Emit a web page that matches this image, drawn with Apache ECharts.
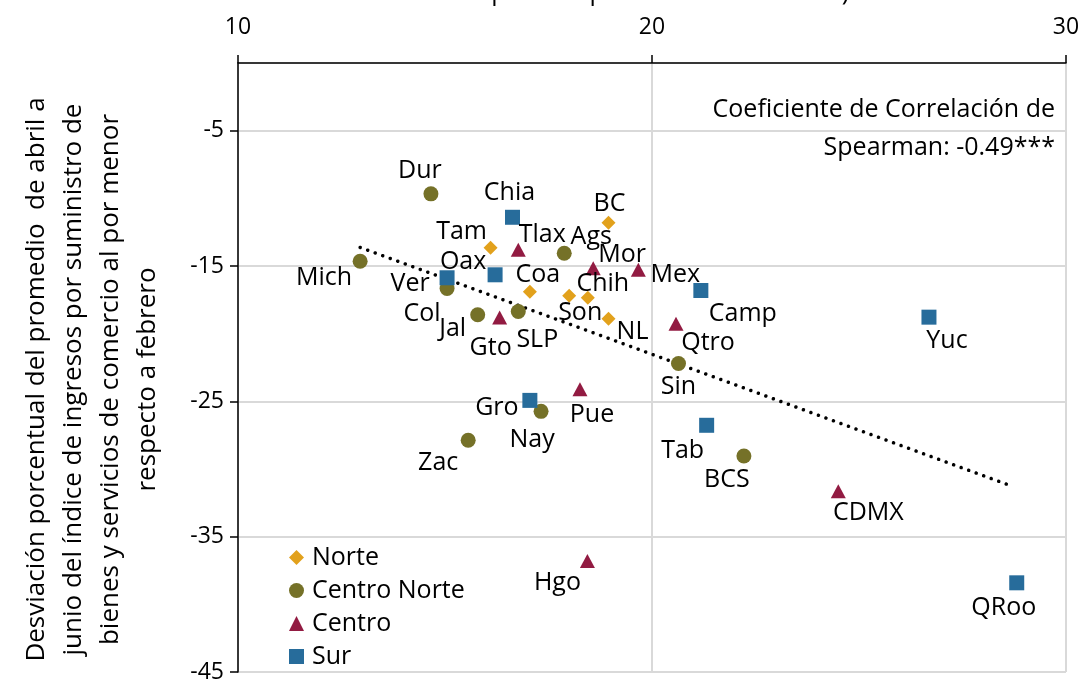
<!DOCTYPE html>
<html lang="es">
<head>
    <meta charset="UTF-8">
    <title>Correlación de Spearman por entidad</title>
    <script src="https://cdn.jsdelivr.net/npm/echarts@6/dist/echarts.min.js"></script>
    <style>
        html, body { margin: 0; padding: 0; background: #fff; }
        #main { width: 1089px; height: 681px; }
    </style>
</head>
<body>
<div id="main"></div>
<script type="text/javascript">
    // puntos por region: [entidad, x, y]
    var norteData = [
        ['BC', 18.95, -11.8],
        ['Tam', 16.1, -13.65],
        ['Coa', 17.05, -16.9],
        ['Son', 18.0, -17.2],
        ['Chih', 18.45, -17.35],
        ['NL', 18.95, -18.9]
    ];
    var centroNorteData = [
        ['Dur', 14.66, -9.67],
        ['Ags', 17.88, -14.06],
        ['Mich', 12.95, -14.65],
        ['Col', 15.05, -16.66],
        ['Jal', 15.79, -18.6],
        ['SLP', 16.77, -18.36],
        ['Sin', 20.64, -22.2],
        ['Nay', 17.32, -25.74],
        ['Zac', 15.56, -27.88],
        ['BCS', 22.22, -29.04]
    ];
    var centroData = [
        ['Tlax', 16.77, -13.8],
        ['Mor', 18.58, -15.16],
        ['Mex', 19.67, -15.28],
        ['Gto', 16.32, -18.8],
        ['Qtro', 20.58, -19.27],
        ['Pue', 18.26, -24.11],
        ['CDMX', 24.5, -31.64],
        ['Hgo', 18.44, -36.8]
    ];
    var surData = [
        ['Chia', 16.63, -11.4],
        ['Oax', 16.21, -15.65],
        ['Ver', 15.05, -15.87],
        ['Camp', 21.18, -16.81],
        ['Yuc', 26.69, -18.78],
        ['Gro', 17.05, -24.93],
        ['Tab', 21.32, -26.77],
        ['QRoo', 28.81, -38.41]
    ];
    // linea de tendencia (extremos)
    var trendData = [[12.95, -13.63], [28.7, -31.27]];
    var xTicks = [10, 20, 30];
    var yTicks = [-45, -35, -25, -15, -5];

    // desplazamiento de cada etiqueta respecto a su marcador (px)
    var labelOffset = {
        BC: [1, -19], Tam: [-29, -16], Coa: [8, -17], Son: [11, 17], Chih: [15, -14], NL: [24, 13],
        Dur: [-11, -23], Ags: [27, -16], Mich: [-36, 17], Col: [-25, 25], Jal: [-25, 14], SLP: [19, 28],
        Sin: [0, 23], Nay: [-9, 29], Zac: [-30, 23], BCS: [-17, 24],
        Tlax: [24, -15], Mor: [29, -13], Mex: [37, 5], Gto: [-9, 30], Qtro: [32, 19], Pue: [12, 26],
        CDMX: [30, 22], Hgo: [-30, 22],
        Chia: [-3, -24], Oax: [-32, -13], Ver: [-37, 6], Camp: [42, 23], Yuc: [18, 24], Gro: [-33, 7],
        Tab: [-24, 26], QRoo: [-13, 25]
    };

    var FONT = '"Open Sans", sans-serif';
    var FS = 25;      // etiquetas, leyenda, titulos
    var FS_TICK = 23; // numeros de los ejes

    function toItems(rows) {
        return rows.map(function (r) {
            return {
                name: r[0],
                value: [r[1], r[2]],
                label: {offset: labelOffset[r[0]] || [0, 0]}
            };
        });
    }

    function scatter(name, rows, symbol, size, color) {
        return {
            name: name,
            type: 'scatter',
            symbol: symbol,
            symbolSize: size,
            itemStyle: {color: color, opacity: 1},
            label: {
                show: true,
                position: 'inside',
                formatter: '{b}',
                color: '#000',
                fontFamily: FONT,
                fontSize: FS
            },
            emphasis: {disabled: true},
            data: toItems(rows),
            z: 3
        };
    }

    var myChart = echarts.init(document.getElementById('main'));
    var option = {
        animation: false,
        backgroundColor: '#fff',
        textStyle: {fontFamily: FONT},
        grid: {left: 238, right: 23, top: 63, bottom: 9, containLabel: false, outerBoundsMode: 'none'},
        legend: {
            orient: 'vertical',
            left: 284,
            top: 540,
            itemWidth: 15,
            itemHeight: 15,
            itemGap: 8,
            textStyle: {color: '#000', fontFamily: FONT, fontSize: FS, padding: [0, 0, 0, 3]},
            data: ['Norte', 'Centro Norte', 'Centro', 'Sur']
        },
        xAxis: {
            type: 'value',
            position: 'top',
            min: xTicks[0],
            max: xTicks[xTicks.length - 1],
            interval: 10,
            name: 'respecto al periodo de referencia)',
            nameLocation: 'middle',
            nameGap: 58,
            nameTextStyle: {color: '#000', fontFamily: FONT, fontSize: FS},
            axisLine: {lineStyle: {color: '#000', width: 1.5}},
            axisTick: {show: true, length: 8, lineStyle: {color: '#000', width: 1.5}},
            axisLabel: {color: '#000', fontFamily: FONT, fontSize: FS_TICK, margin: 24},
            splitLine: {show: true, lineStyle: {color: '#d9d9d9', width: 2}}
        },
        yAxis: {
            type: 'value',
            min: yTicks[0],
            max: 0,
            interval: 10,
            name: 'Desviación porcentual del promedio  de abril a\n' +
                'junio del índice de ingresos por suministro de\n' +
                'bienes y servicios de comercio al por menor\n' +
                'respecto a febrero',
            nameLocation: 'middle',
            nameRotate: 90,
            nameGap: 72,
            nameTextStyle: {
                color: '#000', fontFamily: FONT, fontSize: 26, lineHeight: 37, align: 'center',
                padding: [0, 24, 0, 0]
            },
            axisLine: {lineStyle: {color: '#000', width: 1.5}},
            axisTick: {show: true, length: 8, lineStyle: {color: '#000', width: 1.5}},
            axisLabel: {color: '#000', fontFamily: FONT, fontSize: FS_TICK, margin: 14, showMaxLabel: false},
            splitLine: {show: true, lineStyle: {color: '#d9d9d9', width: 2}}
        },
        graphic: [{
            type: 'text',
            x: 1055,
            y: 110,
            style: {
                text: 'Coeficiente de Correlación de',
                align: 'right',
                verticalAlign: 'middle',
                fill: '#000',
                font: FS + 'px ' + FONT
            },
            z: 10
        }, {
            type: 'text',
            x: 1055,
            y: 148,
            style: {
                text: 'Spearman: -0.49***',
                align: 'right',
                verticalAlign: 'middle',
                fill: '#000',
                font: FS + 'px ' + FONT
            },
            z: 10
        }],
        series: [
            scatter('Norte', norteData, 'diamond', 14, '#e2a11c'),
            scatter('Centro Norte', centroNorteData, 'circle', 15, '#757128'),
            scatter('Centro', centroData, 'triangle', [15, 14], '#921b42'),
            scatter('Sur', surData, 'rect', 15, '#276c9b'),
            {
                name: 'Tendencia',
                type: 'line',
                data: trendData,
                symbol: 'none',
                silent: true,
                lineStyle: {color: '#000', width: 3.5, type: [0.1, 7.9], cap: 'round'},
                z: 2
            }
        ]
    };
    myChart.setOption(option);
</script>
</body>
</html>
